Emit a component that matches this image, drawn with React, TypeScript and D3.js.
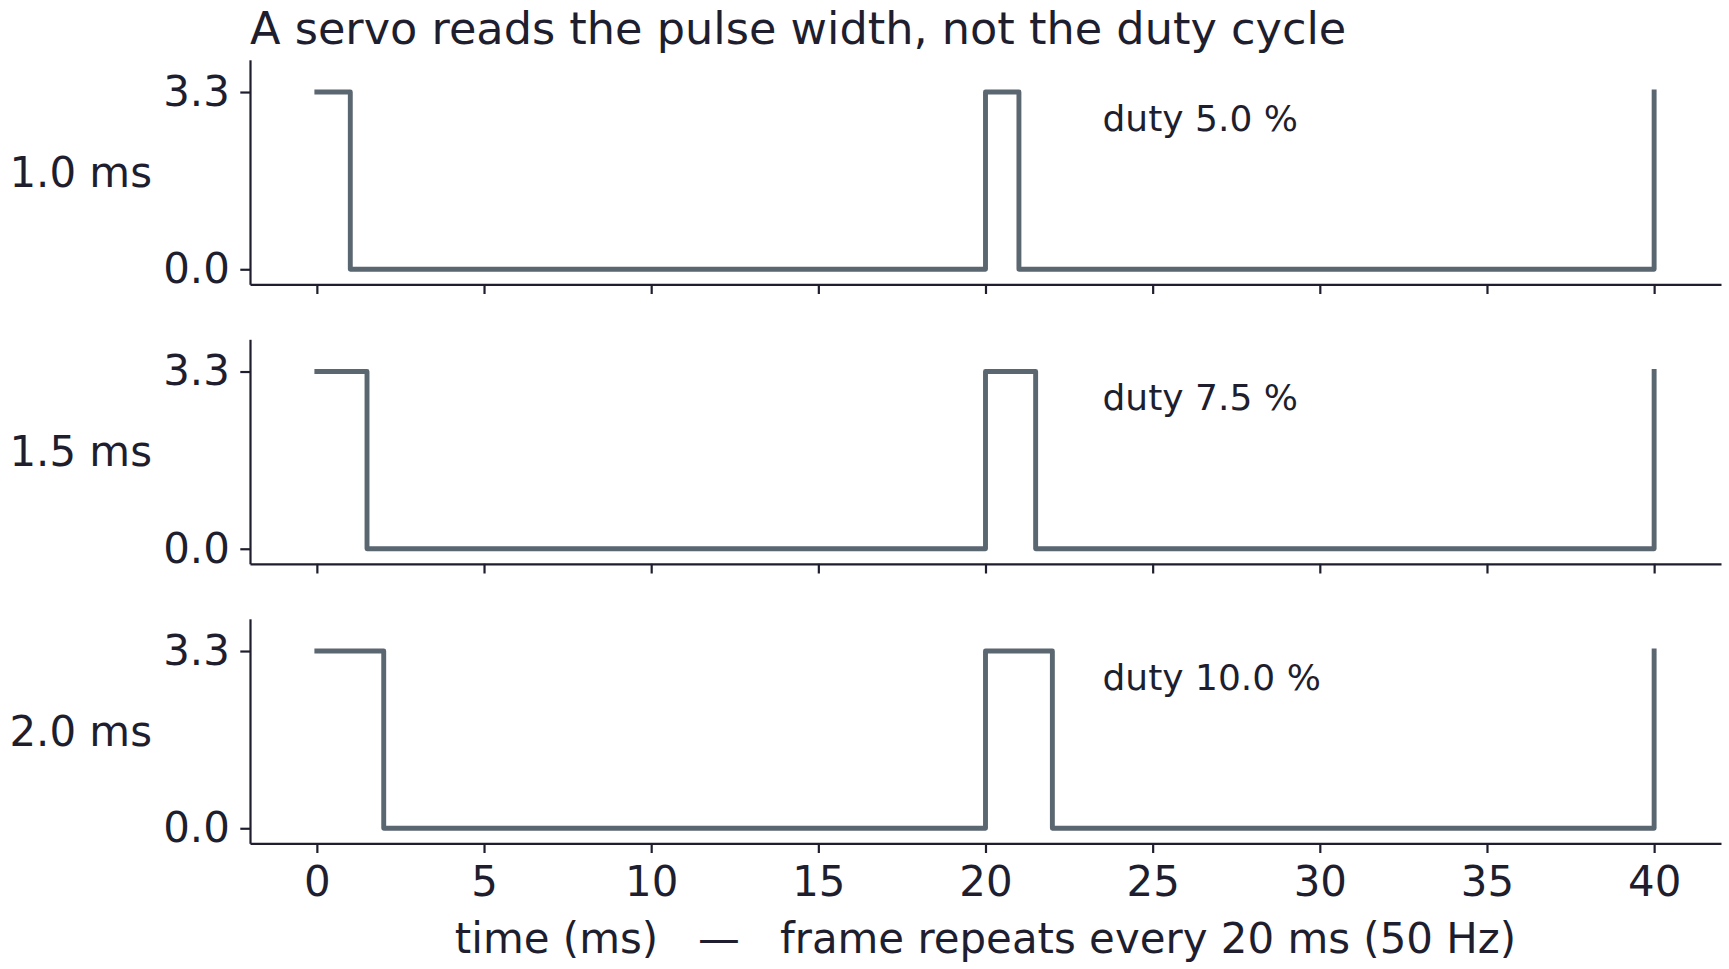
import React, { useEffect, useRef } from 'react';
import * as d3 from 'd3';

// pulse widths shown on each row (ms)
const pulseWidths = [1.0, 1.5, 2.0];
const dutyCycles = [5.0, 7.5, 10.0];
// edge times for each row, two 20 ms frames
const edgeTimes = [
  [0, 1.0, 20, 21.0, 40],
  [0, 1.5, 20, 21.5, 40],
  [0, 2.0, 20, 22.0, 40],
];
const edgeLevels = [3.3, 0, 3.3, 0, 3.3];
const yTicks = [0, 3.3];
const xTicks = [0, 5, 10, 15, 20, 25, 30, 35, 40];
const dutyLabelPos = { t: 23.5, v: 2.58 };

const title = 'A servo reads the pulse width, not the duty cycle';
const xLabel = 'time (ms)   \u2014   frame repeats every 20 ms (50 Hz)';

const WIDTH = 1729;
const HEIGHT = 969;
const TEXT = '#1e1e2e';
const LINE = '#5a6670';
const FONT = '"DejaVu Sans", Verdana, sans-serif';

const App: React.FC = () => {
  const svgRef = useRef<SVGSVGElement>(null);

  useEffect(() => {
    if (!svgRef.current) return;
    const svg = d3.select(svgRef.current);
    svg.selectAll('*').remove();

    const left = 250;
    const right = 1721;
    const panelTops = [59.8, 339.3, 618.8];
    const panelH = 224.5;

    const x = d3.scaleLinear().domain([-2, 42]).range([left, right]);

    svg.append('text')
      .attr('x', left)
      .attr('y', 44.3)
      .style('font-family', FONT)
      .style('font-size', '44.6px')
      .style('fill', TEXT)
      .text(title);

    pulseWidths.forEach((w, i) => {
      const top = panelTops[i];
      const y = d3.scaleLinear().domain([-0.28, 3.9]).range([top + panelH, top]);
      const g = svg.append('g');
      const isLast = i === pulseWidths.length - 1;

      // y axis
      const ya = g.append('g')
        .attr('transform', `translate(${left},0)`)
        .call(d3.axisLeft(y).tickValues(yTicks).tickFormat(d3.format('.1f')).tickSize(9.7).tickSizeOuter(0).tickPadding(10.5));
      // x axis
      const xa = g.append('g')
        .attr('transform', `translate(0,${top + panelH})`)
        .call(d3.axisBottom(x).tickValues(xTicks)
          .tickFormat(isLast ? (d => String(d)) : () => '')
          .tickSize(9.7).tickSizeOuter(0).tickPadding(13.5));

      [ya, xa].forEach(a => {
        a.attr('font-family', null).attr('font-size', null);
        a.select('.domain').attr('stroke', TEXT).attr('stroke-width', 2.2);
        a.selectAll('.tick line').attr('stroke', TEXT).attr('stroke-width', 2.2);
        a.selectAll('.tick text')
          .style('font-family', FONT)
          .style('font-size', '41.9px')
          .style('fill', TEXT);
      });

      // waveform
      const pts = edgeTimes[i].map((t, k) => [t, edgeLevels[k]] as [number, number]);
      const line = d3.line<[number, number]>()
        .x(d => x(d[0]))
        .y(d => y(d[1]))
        .curve(d3.curveStepAfter);
      g.append('path')
        .attr('d', line(pts))
        .attr('fill', 'none')
        .attr('stroke', LINE)
        .attr('stroke-width', 4.9)
        .attr('stroke-linejoin', 'round')
        .attr('stroke-linecap', 'square');

      // duty annotation
      g.append('text')
        .attr('x', x(dutyLabelPos.t))
        .attr('y', y(dutyLabelPos.v))
        .style('font-family', FONT)
        .style('font-size', '36px')
        .style('fill', TEXT)
        .text(`duty ${dutyCycles[i].toFixed(1)} %`);

      // row label
      g.append('text')
        .attr('x', 152)
        .attr('y', top + panelH / 2)
        .attr('text-anchor', 'end')
        .attr('dominant-baseline', 'central')
        .style('font-family', FONT)
        .style('font-size', '41.9px')
        .style('fill', TEXT)
        .text(`${w.toFixed(1)} ms`);
    });

    svg.append('text')
      .attr('x', (left + right) / 2)
      .attr('y', 952.7)
      .attr('text-anchor', 'middle')
      .style('font-family', FONT)
      .style('font-size', '41.9px')
      .style('fill', TEXT)
      .style('white-space', 'pre')
      .text(xLabel);
  }, []);

  return (
    <svg
      ref={svgRef}
      width={WIDTH}
      height={HEIGHT}
      style={{ position: 'absolute', left: 0, top: 0, background: '#ffffff' }}
    />
  );
};

export default App;
